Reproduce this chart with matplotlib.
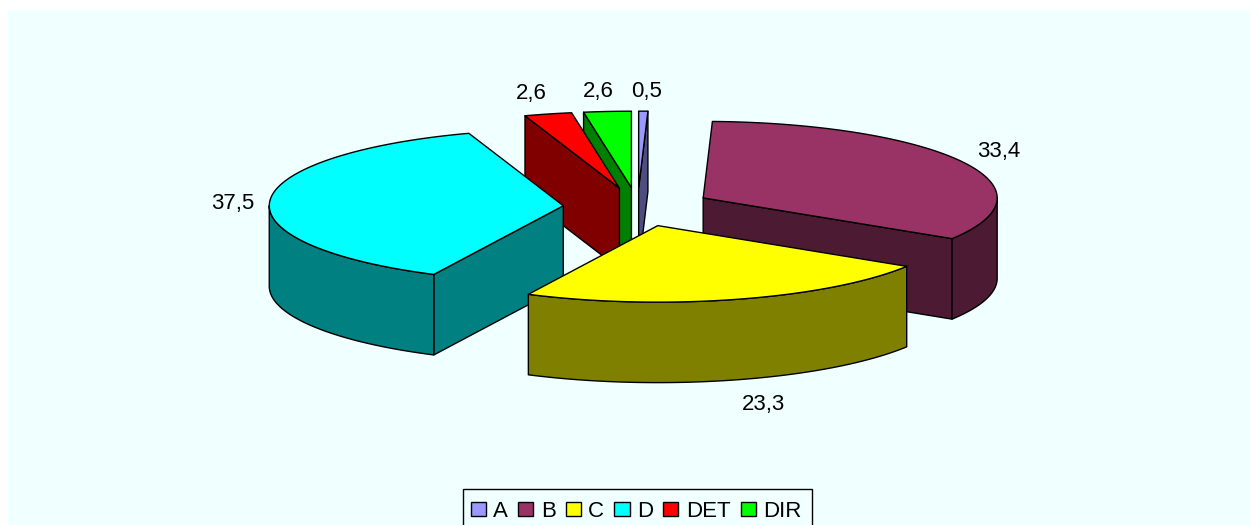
import numpy as np
import matplotlib
matplotlib.use("Agg")
import matplotlib.pyplot as plt
from matplotlib.patches import Polygon, Rectangle, Patch

plt.rcParams['font.family'] = ['Liberation Sans', 'DejaVu Sans']

categories = ["A", "B", "C", "D", "DET", "DIR"]
values = [0.5, 33.4, 23.3, 37.5, 2.6, 2.6]
labels = ["0,5", "33,4", "23,3", "37,5", "2,6", "2,6"]
top_colors = ["#9999FF", "#993366", "#FFFF00", "#00FFFF", "#FF0000", "#00FF00"]
side_colors = ["#4D4D80", "#4D1A33", "#808000", "#008080", "#800000", "#008000"]
label_pos = [(646.5, 97), (998.5, 157), (764, 410), (233, 209), (531, 99), (598, 97)]
draw_order = [0, 5, 4, 1, 3, 2]

W, H = 1259, 525
CX, CY = 637.5, 207.0      # pie centre on the top plane, px
RX, RY = 294.0, 76.5       # ellipse radii, px
EXPLODE = 0.253            # radial explosion as a fraction of radius
DEPTH = 80.5               # pie thickness, px

fig = plt.figure(figsize=(W / 100, H / 100), dpi=100, facecolor="white")
ax = fig.add_axes([0, 0, 1, 1])
ax.set_xlim(0, W)
ax.set_ylim(H, 0)
ax.axis("off")
ax.add_patch(Rectangle((8, 10), 1242, 520, facecolor="#F0FFFF", edgecolor="none", zorder=0))

frac = np.array(values) / np.sum(values)
ends = np.cumsum(frac) * 360.0
starts = ends - frac * 360.0


def pt(theta, radius=1.0):
    t = np.radians(theta)
    return np.sin(t) * radius * RX, -np.cos(t) * radius * RY


z = 1
for i in draw_order:
    t0, t1 = starts[i], ends[i]
    mid = (t0 + t1) / 2
    ox, oy = pt(mid, EXPLODE)
    ax0, ay0 = CX + ox, CY + oy

    def add(poly, color):
        global z
        ax.add_patch(Polygon(poly, closed=True, facecolor=color, edgecolor="black",
                             linewidth=1.0, joinstyle="round", zorder=z))
        z += 1

    # radial cut faces that look towards the viewer
    for th, sign in ((t0, -1), (t1, 1)):
        r = np.radians(th)
        if sign * (-np.sin(r)) < 0:
            ex, ey = pt(th)
            ex += ax0
            ey += ay0
            add([(ax0, ay0), (ex, ey), (ex, ey + DEPTH), (ax0, ay0 + DEPTH)], side_colors[i])

    # outer wall, only the part in front
    w0, w1 = max(t0, 90.0), min(t1, 270.0)
    if w1 > w0:
        th = np.linspace(w0, w1, 80)
        xs, ys = pt(th)
        xs = xs + ax0
        ys = ys + ay0
        add(list(zip(xs, ys)) + list(zip(xs[::-1], ys[::-1] + DEPTH)), side_colors[i])

    # top face
    th = np.linspace(t0, t1, 120)
    xs, ys = pt(th)
    add([(ax0, ay0)] + list(zip(xs + ax0, ys + ay0)), top_colors[i])

for (x, y), s in zip(label_pos, labels):
    ax.text(x, y, s, ha="center", va="baseline", fontsize=16, color="black", zorder=100)

ax.add_patch(Rectangle((463, 489), 349, 60, facecolor="none", edgecolor="black",
                       linewidth=1.0, zorder=90))
handles = [Patch(facecolor=c, edgecolor="black", linewidth=1.0) for c in top_colors]
leg = ax.legend(handles, categories, ncols=6, loc="upper left",
                bbox_to_anchor=(462.5, 492.5), bbox_transform=ax.transData,
                fontsize=16, frameon=False, borderpad=0.37, handlelength=0.68, handleheight=0.65,
                handletextpad=0.33, columnspacing=0.46, labelspacing=0, borderaxespad=0)
leg.set_zorder(100)

fig.savefig("out.png", dpi=100, facecolor="white")
